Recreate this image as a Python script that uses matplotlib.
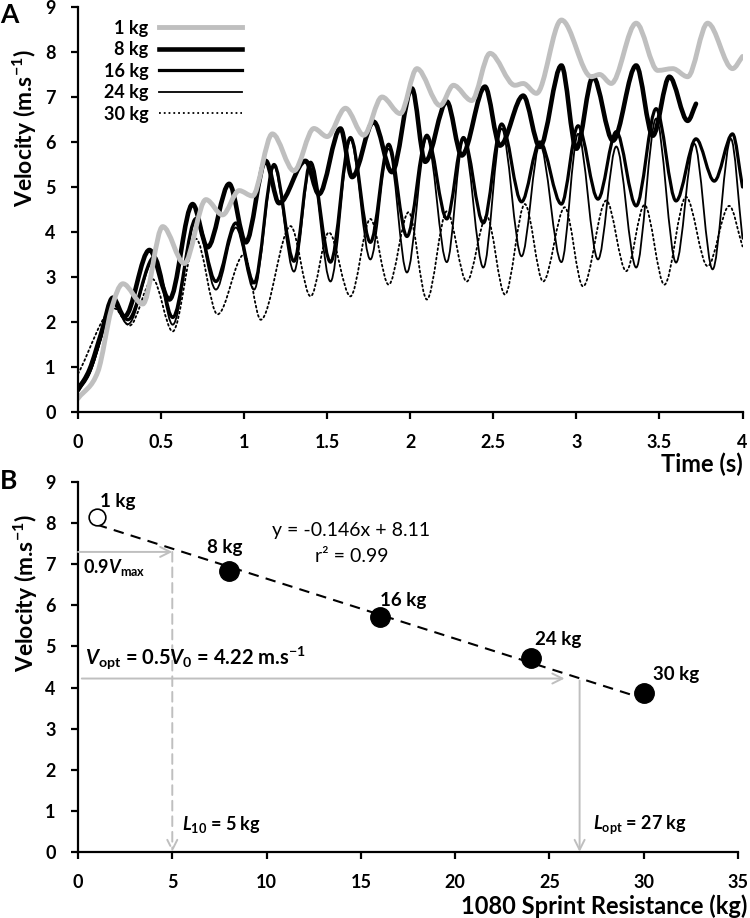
import numpy as np
import matplotlib
matplotlib.use("Agg")
import matplotlib.pyplot as plt
from matplotlib.path import Path
from matplotlib.patches import PathPatch
from matplotlib.lines import Line2D

plt.rcParams['font.family'] = ['Lato', 'DejaVu Sans']
plt.rcParams['font.weight'] = 'bold'
plt.rcParams['mathtext.fontset'] = 'custom'
plt.rcParams['mathtext.rm'] = 'Lato:bold'
plt.rcParams['mathtext.it'] = 'Lato:italic:bold'
plt.rcParams['mathtext.bf'] = 'Lato:bold'
plt.rcParams['mathtext.bfit'] = 'Lato:italic:bold'

# ---- panel A: velocity-time traces (turning points)
t_1kg = [0.0, 0.12, 0.2, 0.27, 0.39, 0.51, 0.64, 0.77, 0.87, 0.97, 1.05, 1.17, 1.30, 1.42, 1.50,
         1.61, 1.72, 1.83, 1.94, 2.04, 2.18, 2.26, 2.37, 2.48, 2.63, 2.68, 2.76, 2.91, 3.09,
         3.14, 3.21, 3.36, 3.49, 3.58, 3.67, 3.79, 3.94, 4.0]
v_1kg = [0.3, 0.9, 2.27, 2.85, 2.4, 4.12, 3.3, 4.72, 4.38, 4.92, 4.8, 6.18, 5.36, 6.3, 6.12,
         6.75, 6.15, 7.0, 6.63, 7.63, 6.81, 7.26, 6.92, 7.97, 7.26, 7.3, 7.08, 8.71, 7.45,
         7.5, 7.3, 8.64, 7.59, 7.63, 7.45, 8.64, 7.63, 7.9]

t_8kg = [0.0, 0.07, 0.14, 0.21, 0.28, 0.43, 0.55, 0.69, 0.78, 0.91, 1.01, 1.13, 1.21, 1.37, 1.45,
         1.58, 1.65, 1.78, 1.89, 2.01, 2.09, 2.22, 2.31, 2.45, 2.54, 2.68, 2.78, 2.91, 3.00,
         3.10, 3.22, 3.36, 3.46, 3.56, 3.67, 3.72]
v_8kg = [0.49, 0.95, 1.75, 2.54, 2.12, 3.6, 2.5, 4.62, 3.66, 5.07, 3.77, 5.58, 4.64, 5.58, 4.84,
         6.3, 5.22, 6.45, 5.33, 7.19, 5.56, 6.9, 5.7, 7.23, 5.92, 7.03, 5.89, 7.7, 5.85,
         7.45, 6.03, 7.7, 6.14, 7.45, 6.47, 6.85]

t_16kg = [0.0, 0.07, 0.14, 0.2, 0.30, 0.46, 0.57, 0.71, 0.83, 0.95, 1.06, 1.18, 1.30, 1.40, 1.52,
          1.64, 1.76, 1.87, 1.98, 2.10, 2.22, 2.32, 2.44, 2.55, 2.67, 2.78, 2.91, 3.01, 3.13,
          3.24, 3.36, 3.48, 3.60, 3.72, 3.83, 3.94, 4.0]
v_16kg = [0.55, 0.9, 1.7, 2.45, 2.05, 3.45, 2.1, 4.3, 2.9, 4.2, 2.87, 5.5, 3.35, 5.55, 3.33,
          6.1, 3.77, 5.95, 3.9, 6.15, 4.29, 6.1, 4.2, 6.4, 4.67, 6.0, 4.62, 6.36, 4.73,
          6.23, 4.58, 6.74, 4.69, 6.07, 5.13, 6.18, 5.0]

t_24kg = [0.0, 0.07, 0.14, 0.2, 0.30, 0.46, 0.57, 0.71, 0.83, 0.95, 1.06, 1.18, 1.30, 1.40, 1.52,
          1.64, 1.76, 1.87, 1.98, 2.10, 2.22, 2.32, 2.44, 2.55, 2.67, 2.78, 2.91, 3.01, 3.13,
          3.24, 3.36, 3.48, 3.60, 3.71, 3.82, 3.93, 4.0]
v_24kg = [0.45, 0.85, 1.65, 2.5, 1.95, 3.4, 1.94, 4.25, 2.72, 4.1, 2.72, 5.45, 3.12, 5.5, 2.9,
          6.05, 3.39, 5.85, 3.1, 6.1, 3.33, 6.05, 3.21, 6.3, 3.46, 5.95, 3.33, 6.18, 3.39,
          5.9, 3.21, 6.52, 3.32, 5.96, 3.17, 6.07, 3.85]

t_30kg = [0.0, 0.22, 0.31, 0.45, 0.57, 0.71, 0.84, 1.0, 1.10, 1.28, 1.40, 1.51, 1.64, 1.76, 1.87,
          1.99, 2.10, 2.22, 2.34, 2.46, 2.57, 2.69, 2.80, 2.93, 3.04, 3.18, 3.30, 3.41, 3.53,
          3.66, 3.79, 3.92, 4.0]
v_30kg = [0.85, 2.3, 1.92, 2.95, 1.79, 3.85, 2.17, 3.5, 2.05, 4.13, 2.57, 3.99, 2.57, 4.29, 2.83,
          4.44, 2.5, 4.46, 2.9, 4.35, 2.61, 4.62, 2.9, 4.55, 2.79, 4.7, 3.13, 4.6, 2.83,
          4.78, 3.24, 4.58, 3.68]

series_labels = ['1 kg', '8 kg', '16 kg', '24 kg', '30 kg']
time_ticks = [0, 0.5, 1, 1.5, 2, 2.5, 3, 3.5, 4]

# ---- panel B: load-velocity
loads = [1, 8, 16, 24, 30]
mean_vel = [8.16, 6.84, 5.72, 4.72, 3.88]
load_labels = ['1 kg', '8 kg', '16 kg', '24 kg', '30 kg']
slope, intercept = -0.146, 8.11
v_max90 = 7.3
l10 = 5
v_opt = 4.22
l_opt = 26.6

gray = '#bfbfbf'


def smooth_path(ts, vs):
    t = np.asarray(ts, float)
    v = np.asarray(vs, float)
    n = len(t)
    m = np.zeros(n)
    for i in range(n):
        if i == 0:
            m[i] = (v[1] - v[0]) / (t[1] - t[0])
        elif i == n - 1:
            m[i] = (v[-1] - v[-2]) / (t[-1] - t[-2])
        else:
            a = v[i] - v[i - 1]
            b = v[i + 1] - v[i]
            m[i] = 0.0 if a * b <= 0 else (v[i + 1] - v[i - 1]) / (t[i + 1] - t[i - 1])
    verts = [(t[0], v[0])]
    codes = [Path.MOVETO]
    for i in range(n - 1):
        d = (t[i + 1] - t[i]) / 3.0
        verts += [(t[i] + d, v[i] + m[i] * d), (t[i + 1] - d, v[i + 1] - m[i + 1] * d), (t[i + 1], v[i + 1])]
        codes += [Path.CURVE4] * 3
    return Path(verts, codes)


fig = plt.figure(figsize=(7.5, 9.18), dpi=100)
axA = fig.add_axes([0.104, 0.5512, 0.886, 0.4412])
axB = fig.add_axes([0.104, 0.0719, 0.88, 0.403])

styles = [
    dict(color=gray, lw=3.5, ls='-'),
    dict(color='black', lw=3.3, ls='-'),
    dict(color='black', lw=2.3, ls='-'),
    dict(color='black', lw=1.3, ls='-'),
    dict(color='black', lw=1.3, ls=':'),
]
data = [(t_30kg, v_30kg), (t_24kg, v_24kg), (t_16kg, v_16kg), (t_8kg, v_8kg), (t_1kg, v_1kg)]
for (tt, vv), st in zip(data, styles[::-1]):
    axA.add_patch(PathPatch(smooth_path(tt, vv), facecolor='none', edgecolor=st['color'],
                            lw=st['lw'], linestyle=st['ls'], capstyle='round', joinstyle='round'))

handles = [Line2D([], [], **st) for st in styles]
axA.legend(handles, series_labels, loc='upper left', bbox_to_anchor=(0.02, 1.0), frameon=False,
           markerfirst=False, handlelength=4.6, handletextpad=0.6, labelspacing=0.25,
           prop=dict(size=13, weight='bold'), borderpad=0.2)

for ax in (axA, axB):
    ax.spines['top'].set_visible(False)
    ax.spines['right'].set_visible(False)
    for s in ('left', 'bottom'):
        ax.spines[s].set_linewidth(1.6)
    ax.tick_params(direction='out', length=5, width=1.6, pad=11, labelsize=13)
    ax.set_ylim(0, 9)
    ax.set_yticks(range(10))

axA.set_xlim(0, 4)
axA.set_xticks(time_ticks)
axA.set_xticklabels(['{:g}'.format(x) for x in time_ticks])
axA.set_xlabel('Time (s)', fontsize=17, fontweight='bold', loc='right', labelpad=0)
axA.xaxis.set_label_coords(1.0, -0.1)
axA.set_ylabel('Velocity (m.s$^{-1}$)', fontsize=16.5, fontweight='bold')
axA.yaxis.set_label_coords(-0.058, 0.70)

# panel B
fit_x = np.array([loads[0], loads[-1]])
axB.plot(fit_x, slope * fit_x + intercept, color='black', lw=1.5, dashes=(5, 3.5), zorder=2)
axB.plot(loads[1:], mean_vel[1:], 'o', color='black', ms=14, zorder=3)
axB.plot(loads[:1], mean_vel[:1], 'o', mfc='white', mec='black', mew=1.2, ms=12, zorder=3)
offsets = [(2, 11), (-16, 17), (0, 12), (3, 13), (7, 13)]
for x, y, lab, off in zip(loads, mean_vel, load_labels, offsets):
    axB.annotate(lab, (x, y), xytext=off, textcoords='offset points', ha='left', va='center',
                 fontsize=13.5, fontweight='bold')

axB.text(14.5, 7.83, 'y = -0.146x + 8.11', ha='center', va='center', fontsize=14, fontweight='normal')
axB.text(14.5, 7.18, 'r\u00b2 = 0.99', ha='center', va='center', fontsize=14, fontweight='normal')

arrow = dict(arrowstyle='->', color=gray, lw=1.4, shrinkA=0, shrinkB=0, mutation_scale=18)
axB.annotate('', xy=(l10, v_max90), xytext=(0, v_max90), arrowprops=arrow)
axB.annotate('', xy=(l10, 0), xytext=(l10, v_max90), arrowprops=dict(arrow, linestyle=(0, (5, 3))))
axB.annotate('', xy=(l_opt - 0.8, v_opt), xytext=(0.2, v_opt), arrowprops=arrow)
axB.annotate('', xy=(l_opt, 0), xytext=(l_opt, v_opt - 0.05), arrowprops=arrow)

axB.text(0.26, 6.93, '0.9$\\mathbfit{V}_{\\mathbf{max}}$', ha='left', va='center', fontsize=13)
axB.text(0.37, 4.74, '$\\mathbfit{V}_{\\mathbf{opt}}$ = 0.5$\\mathbfit{V}_{\\mathbf{0}}$ = 4.22 m.s$^{-1}$',
         ha='left', va='center', fontsize=14.5)
axB.text(5.5, 0.66, '$\\mathbfit{L}_{\\mathbf{10}}$ = 5 kg', ha='left', va='center', fontsize=13)
axB.text(27.3, 0.66, '$\\mathbfit{L}_{\\mathbf{opt}}$ = 27 kg', ha='left', va='center', fontsize=13)

axB.set_xlim(0, 35)
axB.set_xticks(range(0, 36, 5))
axB.set_xlabel('1080 Sprint Resistance (kg)', fontsize=17, fontweight='bold', loc='right')
axB.xaxis.set_label_coords(1.0136, -0.115)
axB.set_ylabel('Velocity (m.s$^{-1}$)', fontsize=16.5, fontweight='bold')
axB.yaxis.set_label_coords(-0.058, 0.70)

for ax in (axA, axB):
    for lab in ax.get_xticklabels() + ax.get_yticklabels():
        lab.set_fontweight('bold')

fig.text(0.0, 1 - 15 / 918, 'A', fontsize=19, fontweight='bold', va='center', ha='left')
fig.text(0.0, 1 - 481 / 918, 'B', fontsize=19, fontweight='bold', va='center', ha='left')

fig.savefig('out.png', dpi=100)
